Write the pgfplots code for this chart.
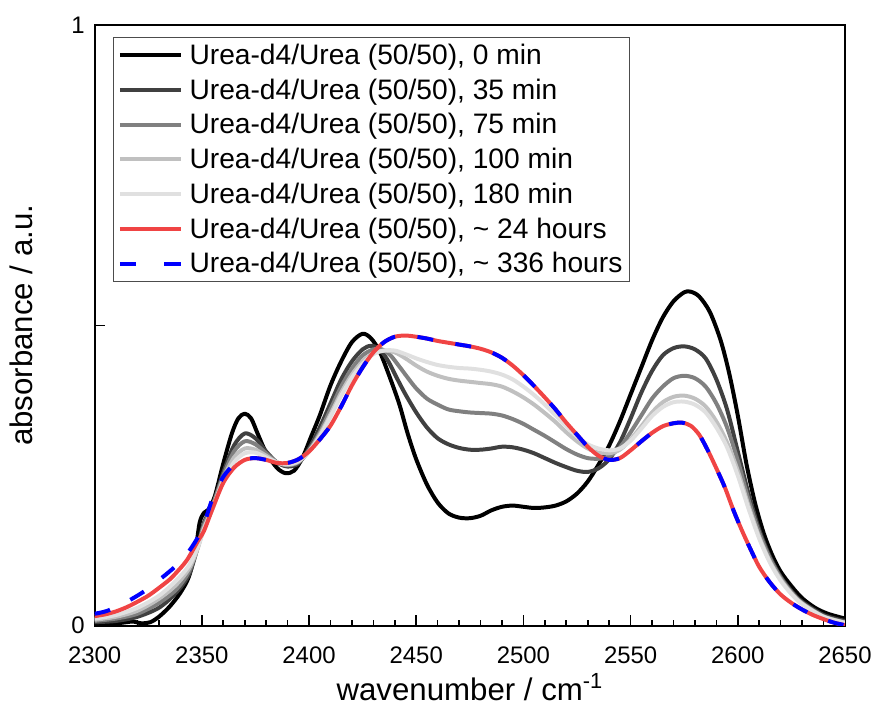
\documentclass[border=0pt]{standalone}
\usepackage{fontspec}
\setmainfont{Liberation Sans}
\usepackage{pgfplots}
\pgfplotsset{compat=1.18}
\definecolor{c35}{HTML}{404040}
\definecolor{c75}{HTML}{808080}
\definecolor{c100}{HTML}{C0C0C0}
\definecolor{c180}{HTML}{E0E0E0}
\definecolor{cred}{HTML}{F04444}
\definecolor{cblue}{HTML}{0000FF}
\begin{document}
\begin{tikzpicture}
\begin{axis}[
  name=ax,
  scale only axis,
  width=564.75pt, height=452.25pt,
  xmin=2300, xmax=2650, ymin=0, ymax=1,
  axis line style={line width=1.5pt},
  xtick={2300,2350,...,2650},
  minor x tick num=4,
  ytick={0,0.5,1}, yticklabels={0,,1},
  tick pos=left,
  tick align=inside,
  major tick length=8pt, minor tick length=4.5pt,
  every tick/.style={black, line width=1.2pt},
  /pgf/number format/assume math mode=true,
  /pgf/number format/1000 sep={},
  ticklabel style={font=\fontsize{18}{20}\selectfont},
  xticklabel style={yshift=-12.5pt},
  yticklabel style={xshift=-4pt},
  xlabel={wavenumber / cm\textsuperscript{-1}},
  ylabel={absorbance / a.u.},
  ylabel shift=22pt,
  label style={font=\fontsize{23.5}{26}\selectfont},
  legend cell align=left,
  legend style={at={(0.025,0.98)}, anchor=north west, draw=black!70, line width=0.6pt,
    font=\fontsize{21.2}{26}\selectfont, row sep=5.3pt, inner xsep=3pt, inner ysep=3pt},
  legend image code/.code={\draw[#1, line width=3pt] (0pt,0pt) -- (46pt,0pt); \path (49pt,0pt);},
  every axis plot/.append style={line width=3pt, smooth, no markers, line join=round},
]
% 0 min
\addplot[black] coordinates {
(2300,0.003)(2305,0.004)(2310,0.004)(2315,0.006)(2318,0.007)(2322,0.004)(2326,0.006)
(2330,0.015)(2335,0.032)(2340,0.055)(2344,0.082)(2347,0.125)(2349,0.172)(2351,0.188)
(2353,0.193)(2356,0.215)(2360,0.27)(2364,0.32)(2367,0.345)(2370,0.353)(2373,0.345)
(2376,0.32)(2380,0.288)(2385,0.263)(2389,0.254)(2393,0.258)(2397,0.28)(2401,0.315)
(2405,0.35)(2410,0.4)(2415,0.44)(2420,0.472)(2425,0.486)(2429,0.478)(2433,0.456)
(2437,0.42)(2442,0.37)(2446,0.32)(2450,0.277)(2455,0.235)(2460,0.205)(2465,0.187)
(2470,0.18)(2475,0.179)(2480,0.183)(2485,0.192)(2490,0.198)(2495,0.2)(2500,0.198)
(2505,0.196)(2510,0.197)(2515,0.2)(2520,0.207)(2525,0.22)(2530,0.24)(2535,0.268)
(2540,0.3)(2545,0.34)(2550,0.385)(2555,0.43)(2560,0.475)(2565,0.513)(2570,0.54)
(2575,0.555)(2578,0.556)(2582,0.548)(2587,0.522)(2592,0.475)(2596,0.42)(2600,0.35)
(2604,0.27)(2608,0.205)(2612,0.155)(2616,0.118)(2620,0.09)(2625,0.066)(2630,0.046)
(2636,0.03)(2642,0.02)(2650,0.012)};
\addlegendentry{Urea-d4/Urea (50/50), 0 min}
% 35 min
\addplot[c35] coordinates {
(2300,0.006)(2310,0.008)(2320,0.015)(2330,0.03)(2338,0.055)(2344,0.085)(2348,0.13)
(2351,0.172)(2355,0.2)(2360,0.255)(2365,0.3)(2370,0.32)(2375,0.312)(2380,0.29)
(2385,0.272)(2390,0.265)(2395,0.27)(2400,0.295)(2405,0.33)(2410,0.37)(2415,0.41)
(2420,0.44)(2425,0.46)(2429,0.466)(2433,0.46)(2437,0.44)(2441,0.412)(2445,0.385)
(2450,0.355)(2455,0.33)(2460,0.312)(2465,0.302)(2470,0.296)(2475,0.293)(2480,0.293)
(2485,0.295)(2490,0.298)(2495,0.297)(2500,0.293)(2505,0.287)(2510,0.279)(2515,0.271)
(2520,0.264)(2525,0.258)(2530,0.256)(2535,0.262)(2540,0.277)(2545,0.305)(2550,0.345)
(2555,0.388)(2560,0.424)(2565,0.45)(2570,0.462)(2575,0.465)(2580,0.46)(2585,0.445)
(2590,0.41)(2595,0.36)(2600,0.29)(2605,0.22)(2610,0.16)(2615,0.115)(2620,0.082)
(2625,0.058)(2630,0.04)(2640,0.018)(2650,0.008)};
\addlegendentry{Urea-d4/Urea (50/50), 35 min}
% 75 min
\addplot[c75] coordinates {
(2300,0.008)(2310,0.012)(2320,0.02)(2330,0.038)(2338,0.06)(2344,0.09)(2348,0.13)
(2351,0.168)(2355,0.2)(2360,0.25)(2365,0.29)(2370,0.307)(2375,0.302)(2380,0.287)
(2385,0.272)(2390,0.267)(2395,0.272)(2400,0.292)(2405,0.322)(2410,0.36)(2415,0.398)
(2420,0.428)(2425,0.45)(2430,0.46)(2434,0.46)(2438,0.45)(2442,0.432)(2446,0.413)
(2450,0.395)(2455,0.378)(2460,0.368)(2465,0.36)(2470,0.357)(2475,0.355)(2480,0.354)
(2485,0.353)(2490,0.35)(2495,0.344)(2500,0.336)(2505,0.326)(2510,0.316)(2515,0.305)
(2520,0.294)(2525,0.285)(2530,0.279)(2535,0.278)(2540,0.282)(2545,0.297)(2550,0.322)
(2555,0.35)(2560,0.378)(2565,0.398)(2570,0.412)(2575,0.416)(2580,0.412)(2585,0.398)
(2590,0.37)(2595,0.33)(2600,0.275)(2605,0.21)(2610,0.155)(2615,0.112)(2620,0.08)
(2625,0.056)(2630,0.038)(2640,0.016)(2650,0.006)};
\addlegendentry{Urea-d4/Urea (50/50), 75 min}
% 100 min
\addplot[c100] coordinates {
(2300,0.01)(2310,0.015)(2320,0.025)(2330,0.045)(2338,0.068)(2344,0.095)(2348,0.128)
(2351,0.163)(2355,0.195)(2360,0.245)(2365,0.28)(2370,0.295)(2375,0.293)(2380,0.283)
(2385,0.272)(2390,0.268)(2395,0.273)(2400,0.29)(2405,0.318)(2410,0.352)(2415,0.388)
(2420,0.418)(2425,0.44)(2430,0.454)(2435,0.458)(2440,0.455)(2445,0.445)(2450,0.433)
(2455,0.423)(2460,0.416)(2465,0.411)(2470,0.408)(2475,0.406)(2480,0.404)(2485,0.402)
(2490,0.398)(2495,0.39)(2500,0.38)(2505,0.368)(2510,0.354)(2515,0.339)(2520,0.322)
(2525,0.307)(2530,0.295)(2535,0.288)(2540,0.287)(2545,0.293)(2550,0.31)(2555,0.332)
(2560,0.355)(2565,0.372)(2570,0.381)(2575,0.383)(2580,0.378)(2585,0.365)(2590,0.34)
(2595,0.305)(2600,0.258)(2605,0.2)(2610,0.148)(2615,0.107)(2620,0.077)(2625,0.054)
(2630,0.037)(2640,0.015)(2650,0.005)};
\addlegendentry{Urea-d4/Urea (50/50), 100 min}
% 180 min
\addplot[c180] coordinates {
(2300,0.012)(2310,0.018)(2320,0.03)(2330,0.05)(2338,0.075)(2344,0.1)(2348,0.13)
(2351,0.16)(2355,0.195)(2360,0.24)(2365,0.272)(2370,0.287)(2375,0.288)(2380,0.28)
(2385,0.272)(2390,0.269)(2395,0.274)(2400,0.29)(2405,0.315)(2410,0.348)(2415,0.383)
(2420,0.413)(2425,0.436)(2430,0.452)(2435,0.458)(2440,0.458)(2445,0.452)(2450,0.445)
(2455,0.439)(2460,0.434)(2465,0.431)(2470,0.429)(2475,0.428)(2480,0.426)(2485,0.423)
(2490,0.418)(2495,0.41)(2500,0.398)(2505,0.384)(2510,0.368)(2515,0.35)(2520,0.332)
(2525,0.315)(2530,0.302)(2535,0.295)(2540,0.292)(2545,0.295)(2550,0.308)(2555,0.328)
(2560,0.349)(2565,0.364)(2570,0.372)(2575,0.373)(2580,0.368)(2585,0.355)(2590,0.33)
(2595,0.297)(2600,0.25)(2605,0.195)(2610,0.145)(2615,0.105)(2620,0.075)(2625,0.053)
(2630,0.036)(2640,0.015)(2650,0.005)};
\addlegendentry{Urea-d4/Urea (50/50), 180 min}
% 24 h
\addplot[cred] coordinates {
(2300,0.016)(2305,0.019)(2310,0.024)(2315,0.031)(2320,0.04)(2325,0.05)(2330,0.063)
(2335,0.077)(2338,0.088)(2343,0.109)(2348,0.14)(2351,0.158)(2355,0.195)(2360,0.238)
(2365,0.263)(2370,0.276)(2375,0.279)(2380,0.276)(2385,0.271)(2390,0.271)(2395,0.277)
(2400,0.29)(2405,0.31)(2410,0.333)(2415,0.365)(2420,0.4)(2425,0.43)(2430,0.455)
(2435,0.472)(2440,0.481)(2445,0.483)(2450,0.481)(2455,0.478)(2460,0.474)(2465,0.471)
(2470,0.468)(2475,0.465)(2480,0.461)(2485,0.455)(2490,0.446)(2495,0.433)(2500,0.417)
(2505,0.399)(2510,0.38)(2515,0.36)(2520,0.338)(2525,0.318)(2530,0.298)(2535,0.283)
(2540,0.276)(2545,0.279)(2550,0.292)(2555,0.307)(2560,0.321)(2565,0.332)(2570,0.337)
(2574,0.338)(2578,0.333)(2582,0.318)(2586,0.292)(2590,0.262)(2594,0.23)(2598,0.192)
(2602,0.158)(2606,0.127)(2610,0.098)(2615,0.072)(2620,0.052)(2625,0.038)(2630,0.027)
(2635,0.018)(2640,0.011)(2645,0.005)(2650,0.001)};
\addlegendentry{Urea-d4/Urea (50/50), \char`\~{} 24 hours}
% 336 h
\addplot[cblue, dash pattern=on 12pt off 17pt,
  legend image post style={dash pattern=on 12.5pt off 21pt}] coordinates {
(2300,0.02)(2306,0.025)(2315,0.04)(2323,0.057)(2330,0.076)(2338,0.1)(2344,0.124)
(2350,0.16)(2355,0.212)(2360,0.248)(2365,0.268)(2370,0.277)(2375,0.279)(2380,0.276)
(2385,0.271)(2390,0.271)(2395,0.277)
(2400,0.29)(2405,0.31)(2410,0.333)(2415,0.365)(2420,0.4)(2425,0.43)(2430,0.455)
(2435,0.472)(2440,0.481)(2445,0.483)(2450,0.481)(2455,0.478)(2460,0.474)(2465,0.471)
(2470,0.468)(2475,0.465)(2480,0.461)(2485,0.455)(2490,0.446)(2495,0.433)(2500,0.417)
(2505,0.399)(2510,0.38)(2515,0.36)(2520,0.338)(2525,0.318)(2530,0.298)(2535,0.283)
(2540,0.276)(2545,0.279)(2550,0.292)(2555,0.307)(2560,0.321)(2565,0.332)(2570,0.337)
(2574,0.338)(2578,0.333)(2582,0.318)(2586,0.292)(2590,0.262)(2594,0.23)(2598,0.192)
(2602,0.158)(2606,0.127)(2610,0.098)(2615,0.072)(2620,0.052)(2625,0.038)(2630,0.027)
(2635,0.018)(2640,0.011)(2645,0.005)(2650,0.001)};
\addlegendentry{Urea-d4/Urea (50/50), \char`\~{} 336 hours}
\end{axis}
\path (ax.south west) ++(-71.25pt,-66.75pt) coordinate (bbA);
\path (ax.north east) ++(21pt,18.75pt) coordinate (bbB);
\path (bbA) rectangle (bbB);
\end{tikzpicture}
\end{document}
